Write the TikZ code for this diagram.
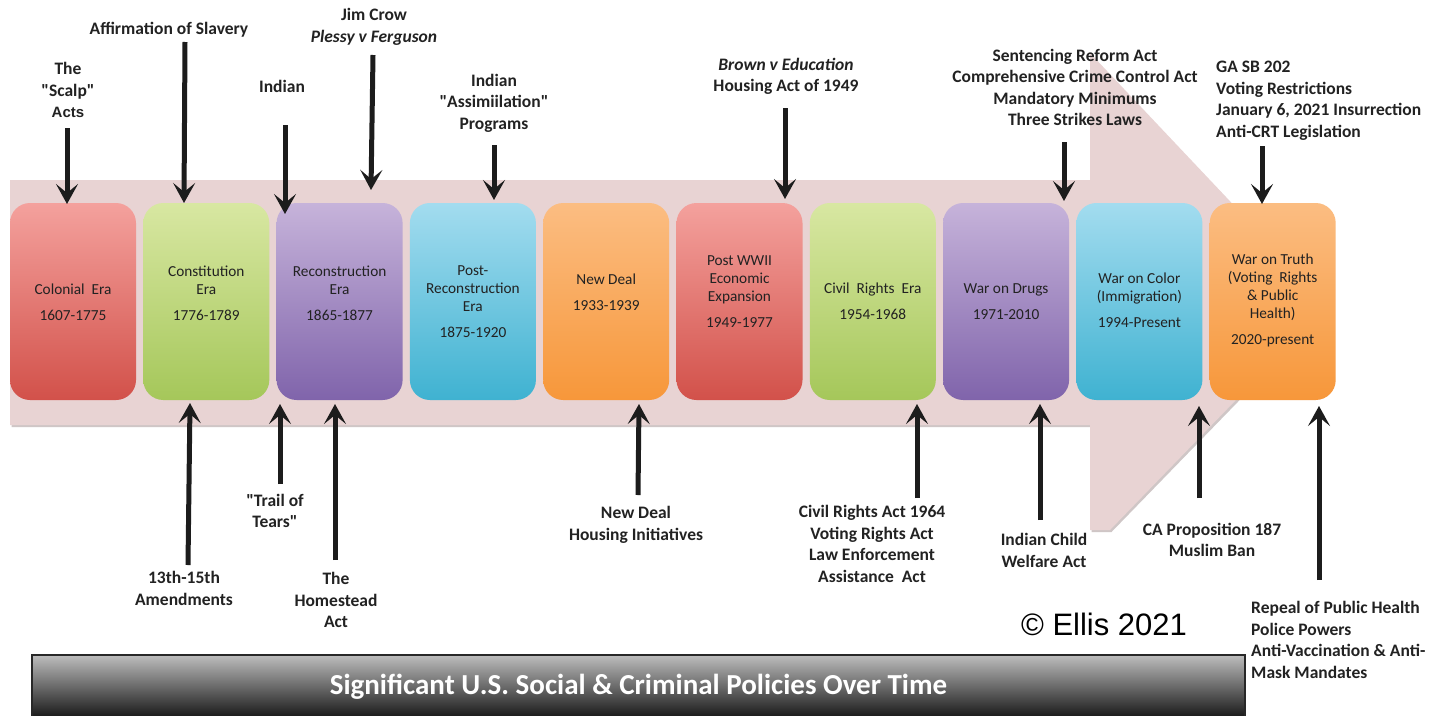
\documentclass[tikz,border=0pt]{standalone}
\usepackage{fontspec}
\setmainfont{Carlito}
\newfontfamily\arialfont{Liberation Sans}
\usetikzlibrary{arrows.meta}
\definecolor{pinkbg}{HTML}{E8D3D3}
\definecolor{pinkshadow}{HTML}{CFC6C6}
\definecolor{redtop}{HTML}{F4A19D}
\definecolor{redbot}{HTML}{D2514A}
\definecolor{greentop}{HTML}{D8E7A2}
\definecolor{greenbot}{HTML}{A5C75A}
\definecolor{purtop}{HTML}{C6B3DA}
\definecolor{purbot}{HTML}{8064AB}
\definecolor{cyantop}{HTML}{A3DCEF}
\definecolor{cyanbot}{HTML}{3FB2D1}
\definecolor{orgtop}{HTML}{FBBD82}
\definecolor{orgbot}{HTML}{F7973A}
\definecolor{labtext}{HTML}{222222}
\definecolor{arrowc}{HTML}{1C1C1C}
\definecolor{bantop}{HTML}{BDBDBD}
\definecolor{banbot}{HTML}{141414}
\newcommand{\labfont}{\fontsize{17.5}{21.5}\selectfont\bfseries}
\newcommand{\erafont}{\fontsize{15.3}{18}\selectfont}
\newcommand{\dq}{\XeTeXglyph\the\XeTeXcharglyph"22\relax}
\tikzset{
  lab/.style={font=\labfont, align=center, text=labtext, inner sep=0pt},
  labl/.style={lab, align=left, anchor=west},
  era/.style={minimum width=126pt, minimum height=197pt, rounded corners=20pt, inner sep=0pt, draw=none},
  eratext/.style={font=\erafont, align=center, text=labtext, inner sep=0pt},
  arr/.style={line width=5pt, draw=arrowc, -{Stealth[length=20pt,width=22pt,inset=9pt]}},
  redbox/.style={era, top color=redtop, bottom color=redbot},
  greenbox/.style={era, top color=greentop, bottom color=greenbot},
  purbox/.style={era, top color=purtop, bottom color=purbot},
  cyanbox/.style={era, top color=cyantop, bottom color=cyanbot},
  orgbox/.style={era, top color=orgtop, bottom color=orgbot},
}
\begin{document}
\begin{tikzpicture}[x=1pt,y=-1pt]
\useasboundingbox (0,0) rectangle (1446,715);
\fill[white] (0,0) rectangle (1446,715);
% big timeline arrow
\fill[pinkshadow] (11.5,182) -- (1091.5,182) -- (1091.5,57) -- (1330,307) -- (1111.5,532) -- (1091.5,532) -- (1091.5,427) -- (11.5,427) -- cycle;
\fill[pinkbg] (10,180) -- (1090,180) -- (1090,53) -- (1328,305) -- (1110,530) -- (1090,530) -- (1090,425) -- (10,425) -- cycle;
% era boxes
\node[redbox]   (b1)  at (73,301.5) {};
\node[greenbox] (b2)  at (206.3,301.5) {};
\node[purbox]   (b3)  at (339.6,301.5) {};
\node[cyanbox]  (b4)  at (472.9,301.5) {};
\node[orgbox]   (b5)  at (606.2,301.5) {};
\node[redbox]   (b6)  at (739.5,301.5) {};
\node[greenbox] (b7)  at (872.8,301.5) {};
\node[purbox]   (b8)  at (1006.1,301.5) {};
\node[cyanbox]  (b9)  at (1139.4,301.5) {};
\node[orgbox]   (b10) at (1272.7,301.5) {};
% era texts
\node[eratext] (t1)  at (73,302)    {Colonial\ \ Era\\[8pt]1607-1775};
\node[eratext] (t2)  at (206.3,293) {Constitution\\Era\\[8pt]1776-1789};
\node[eratext] (t3)  at (339.6,293) {Reconstruction\\Era\\[8pt]1865-1877};
\node[eratext] (t4)  at (472.9,302) {Post-\\Reconstruction\\Era\\[8pt]1875-1920};
\node[eratext] (t5)  at (606.2,292) {New Deal\\[8pt]1933-1939};
\node[eratext] (t6)  at (739.5,291.5) {Post WWII\\Economic\\Expansion\\[8pt]1949-1977};
\node[eratext] (t7)  at (872.8,301.5) {Civil\ \ Rights\ \ Era\\[8pt]1954-1968};
\node[eratext] (t8)  at (1006.1,301.5) {War on Drugs\\[8pt]1971-2010};
\node[eratext] (t9)  at (1139.4,300.5) {War on Color\\(Immigration)\\[8pt]1994-Present};
\node[eratext] (t10) at (1272.7,300.5) {War on Truth\\(Voting\ \ Rights\\\& Public\\Health)\\[8pt]2020-present};
% top labels
\node[lab] (l1) at (68,90) {The\\\dq Scalp\dq\\{\arialfont\fontsize{15}{16}\selectfont\bfseries Acts}};
\node[lab] (l2) at (169,30) {Affirmation of Slavery};
\node[lab] (l3) at (282,86) {Indian};
\node[lab] (l4) at (374,27) {Jim Crow\\\textit{Plessy v Ferguson}};
\node[lab] (l5) at (494,103) {Indian\\\dq Assimiilation\dq\\Programs};
\node[lab] (l6) at (786,76.5) {\textit{Brown v Education}\\Housing Act of 1949};
\node[lab] (l7) at (1075,87.5) {Sentencing Reform Act\\Comprehensive Crime Control Act\\Mandatory Minimums\\Three Strikes Laws};
\node[labl] (l8) at (1216,100.5) {GA SB 202\\Voting Restrictions\\January 6, 2021 Insurrection\\Anti-CRT Legislation};
% bottom labels
\node[lab] (m1) at (184,588.5) {13th-15th\\Amendments};
\node[lab] (m2) at (275,511) {\dq Trail of\\Tears\dq};
\node[lab] (m3) at (336,600) {The\\Homestead\\Act};
\node[lab] (m4) at (636,525) {New Deal\\Housing Initiatives};
\node[lab] (m5) at (872,544) {Civil Rights Act 1964\\Voting Rights Act\\Law Enforcement\\Assistance\ \ Act};
\node[lab] (m6) at (1044,550.5) {Indian Child\\Welfare Act};
\node[lab] (m7) at (1212,540) {CA Proposition 187\\Muslim Ban};
\node[labl] (m8) at (1251,640) {Repeal of Public Health\\Police Powers\\Anti-Vaccination \& Anti-\\Mask Mandates};
% arrow end points
\coordinate (a1s) at (67,128);   \coordinate (a1e) at (67,204);
\coordinate (a2s) at (185,42);   \coordinate (a2e) at (184,203);
\coordinate (a3s) at (285,125);  \coordinate (a3e) at (285,214);
\coordinate (a4s) at (373,55);   \coordinate (a4e) at (371,190);
\coordinate (a5s) at (494,145);  \coordinate (a5e) at (494,200);
\coordinate (a6s) at (785,108);  \coordinate (a6e) at (785,199);
\coordinate (a7s) at (1064,142); \coordinate (a7e) at (1064,201);
\coordinate (a8s) at (1262,146); \coordinate (a8e) at (1262,204);
\coordinate (c1s) at (188,565);  \coordinate (c1e) at (190,403);
\coordinate (c2s) at (280,484);  \coordinate (c2e) at (280,404);
\coordinate (c3s) at (335,560);  \coordinate (c3e) at (335,404);
\coordinate (c4s) at (638,495);  \coordinate (c4e) at (639,404);
\coordinate (c5s) at (917,498);  \coordinate (c5e) at (917,404);
\coordinate (c6s) at (1040,520); \coordinate (c6e) at (1040,404);
\coordinate (c7s) at (1199,498); \coordinate (c7e) at (1199,406);
\coordinate (c8s) at (1319,580); \coordinate (c8e) at (1319,406);
\foreach \n in {a1,a2,a3,a4,a5,a6,a7,a8,c1,c2,c3,c4,c5,c6,c7,c8}
  \draw[arr] (\n s) -- (\n e);
% copyright
\node[font=\arialfont\fontsize{31}{31}\selectfont, text=black, inner sep=0pt] (copy) at (1104,624) {© Ellis 2021};
% title banner
\node[draw={rgb,255:red,40;green,40;blue,40}, line width=1.5pt, top color=bantop, bottom color=banbot,
      minimum width=1213pt, minimum height=64pt, inner sep=0pt,
      font=\fontsize{29}{29}\selectfont\bfseries, text=white] (title) at (638.5,687)
      {\raisebox{-2pt}{Significant U.S. Social \& Criminal Policies Over Time}};
\end{tikzpicture}
\end{document}
